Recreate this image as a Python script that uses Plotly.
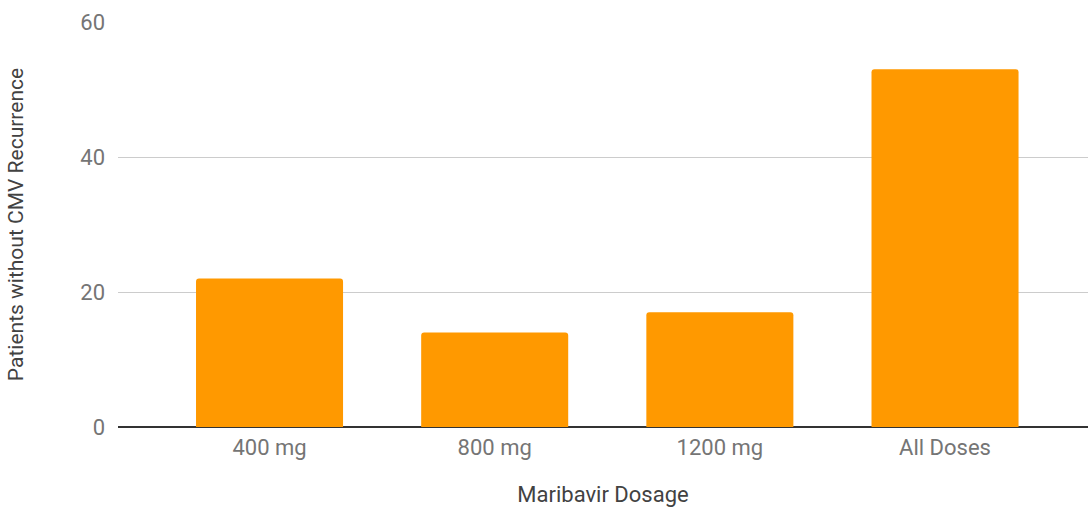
import plotly.graph_objects as go

# Patients without CMV recurrence by maribavir dose
dosages = ["400 mg", "800 mg", "1200 mg", "All Doses"]
patients = [22, 14, 17, 53]
y_ticks = [0, 20, 40, 60]

fig = go.Figure(
    go.Bar(
        x=dosages,
        y=patients,
        marker=dict(color="#ff9900", line=dict(width=0), cornerradius=3),
        width=0.653,
        hoverinfo="x+y",
    )
)

font_family = "Roboto, Arial, sans-serif"

fig.update_layout(
    width=1088,
    height=512,
    margin=dict(l=118, r=0, t=22, b=85),
    paper_bgcolor="white",
    plot_bgcolor="white",
    showlegend=False,
    font=dict(family=font_family, size=22, color="#757575"),
    xaxis=dict(
        type="category",
        range=[-0.673, 3.635],
        showgrid=False,
        showline=False,
        zeroline=False,
        ticks="",
        tickfont=dict(size=22, color="#757575"),
        ticklabelstandoff=5,
        title=dict(text="Maribavir Dosage", font=dict(size=22, color="#424242"), standoff=27),
    ),
    yaxis=dict(
        range=[0, 60],
        tickvals=y_ticks,
        showgrid=True,
        gridcolor="#cccccc",
        gridwidth=1,
        zeroline=True,
        zerolinecolor="#333333",
        zerolinewidth=2,
        showline=False,
        ticks="",
        tickfont=dict(size=22, color="#757575"),
        ticklabelstandoff=12,
        title=dict(text="Patients without CMV Recurrence", font=dict(size=21, color="#424242"), standoff=50),
    ),
)

fig.write_html("out.html")
